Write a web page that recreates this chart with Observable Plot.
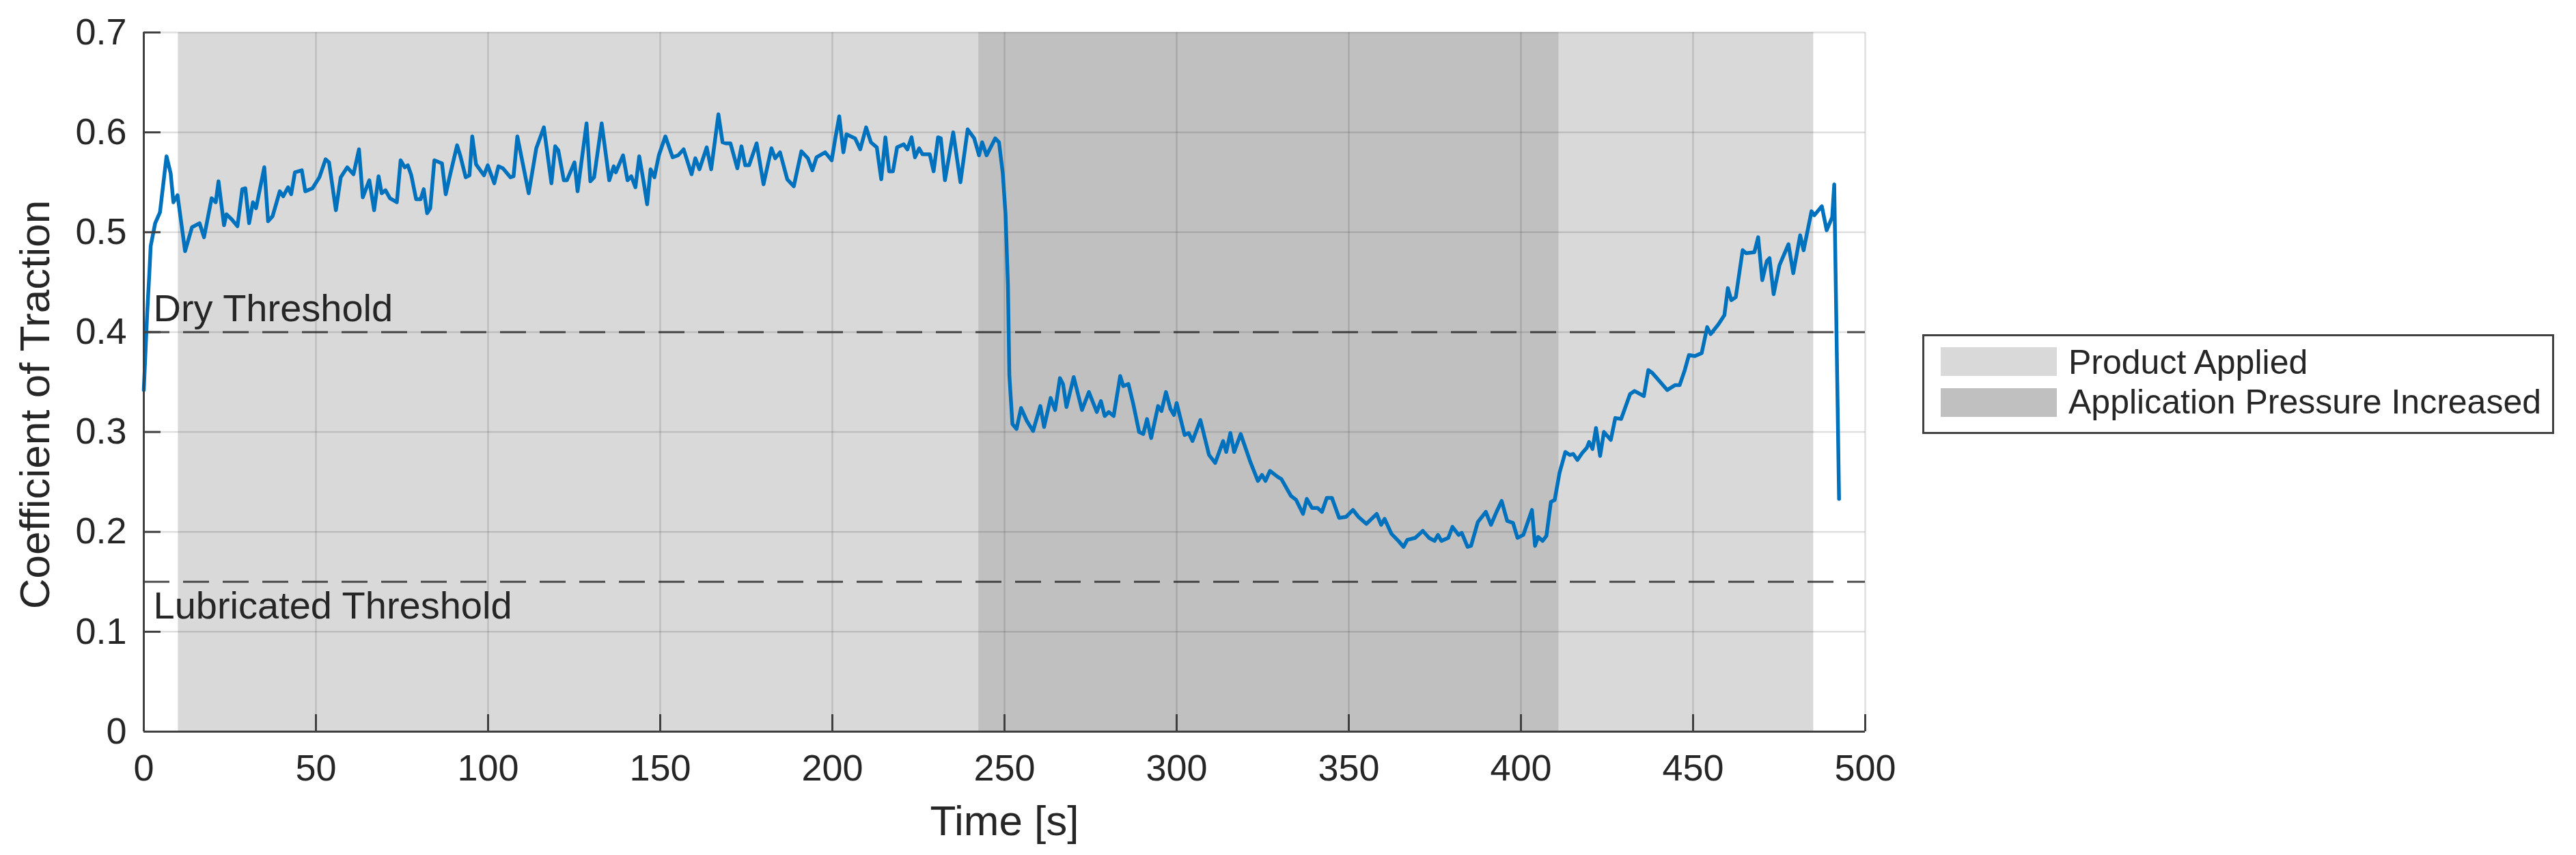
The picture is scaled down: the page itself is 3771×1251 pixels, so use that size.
<!DOCTYPE html>
<html>
<head>
<meta charset="utf-8">
<script src="https://cdn.jsdelivr.net/npm/d3@7"></script>
<script src="https://cdn.jsdelivr.net/npm/@observablehq/plot@0.6"></script>
<style>
  html, body { margin: 0; padding: 0; background: #fff; }
  #wrap { position: relative; width: 3771px; height: 1251px; font-family: "Liberation Sans", Arial, Helvetica, sans-serif; }
  #legend { position: absolute; left: 2814px; top: 489px; width: 925px; height: 146px; box-sizing: border-box;
            border: 3px solid #404040; background: #fff; }
  .sw { position: absolute; left: 24px; width: 170px; height: 42px; }
  .lt { position: absolute; left: 211px; font-size: 50px; line-height: 50px; color: #262626; white-space: nowrap; }
</style>
</head>
<body>
<div id="wrap"></div>
<script>
// ---- data ----
const timeS = [0,1,1.6,2,3.3,4.7,6.6,7.8,8.6,9.8,12,14,16.2,17.5,19.7,20.9,21.7,23.3,24,25.5,27.2,28.6,29.5,30.6,31.7,32.6,35,36.1,37.4,39.5,40.5,41.9,42.8,43.9,45.9,46.9,49,51,52.8,53.8,55.8,57.2,59.1,60.9,62.5,63.6,65.5,66.9,68.2,69.1,70.2,71.5,73.5,74.6,75.8,76.7,77.7,79.1,80.4,81.3,82.3,83.2,84.4,86.6,87.7,88.8,91,91.9,93.5,94.6,95.4,96.5,98.8,99.9,101.8,103,104.3,106.5,107.4,108.5,109.6,111.8,114,116.2,118.4,119.5,120.4,122,122.9,125.1,126,128.6,129.7,130.8,133,135.2,136.5,
137.1,139.2,140.5,141.6,142.8,143.9,145.1,146.2,147.2,148.3,149.6,151.5,153.6,155.2,156.8,159.1,160.2,161.4,163.5,164.8,166.9,168.1,169,170.4,172.4,173.6,174.7,175.8,178,180,182.3,183.4,184.8,186.9,188.8,191,192.9,194.2,195.4,197.9,199.8,200.9,202,203.2,204.1,206.6,208.1,209.8,211.2,212.9,214.2,215.4,216.5,217.6,218.8,220.7,221.8,223,224,225.2,226.2,228.3,229.4,230.7,231.5,232.7,235.1,237.2,239.3,241.2,242.6,243.5,244.8,247.3,248.4,249.5,250.3,251,251.4,252.3,
253.5,254.8,256.5,258.3,260.4,261.5,263.4,264.7,266.1,267,268,270.1,272.5,274.5,276.8,278,279.1,280.3,281.7,283.6,284.5,286,287.4,289.1,290.3,291.4,292.6,294.6,295.6,296.9,298.2,299.2,300,302.3,303.5,304.6,306.9,309.4,311.2,313.5,314.4,315.6,316.7,318.6,321.3,323.6,324.8,325.8,327.1,329.4,330.4,333.2,334.7,336.7,337.8,339.3,340.9,342.2,343.6,345.1,
347.2,349.2,351.2,352.8,355.1,358.1,359.4,360.4,362.4,364.4,365.9,367,369.3,371.5,373.3,374.9,375.9,376.9,378.9,380.1,381.9,382.8,384.5,385.5,387.5,389.8,391.3,392.9,394.4,396,397.7,399,400.7,403.2,404.1,405,406.3,407.4,408.7,409.8,411.2,412.9,414.2,415.2,416.4,417.8,419.1,419.8,420.8,421.8,423,424.1,426.1,427.4,429.1,431.7,433,435.7,
437,438.2,442.5,444.8,446.1,447.5,448.8,450.5,452.5,454.1,455.1,457.4,459.1,460.1,461.1,462.4,464.4,465.4,467.8,468.9,470.1,471.4,472.2,473.4,475.1,477.7,479.1,481.1,482.1,484.4,485.2,487.4,488.8,490.4,491,492.4];

const traction = [0.342,0.42,0.458,0.486,0.509,0.520,0.576,0.559,0.530,0.537,0.481,0.505,0.509,0.495,0.534,0.530,0.551,0.507,0.518,0.513,0.506,0.543,0.544,0.509,0.530,0.524,0.565,0.511,0.516,0.541,0.536,0.545,0.538,0.560,0.562,0.541,0.544,0.555,0.573,0.570,0.522,0.555,0.565,0.558,0.583,0.535,0.552,0.522,0.556,0.539,0.542,0.534,0.530,0.572,0.565,0.567,0.557,0.533,0.533,0.543,0.519,0.524,0.572,0.569,0.538,0.555,0.587,0.577,0.555,0.557,0.596,0.568,0.557,0.567,0.549,0.566,0.564,0.555,0.556,0.596,0.577,0.539,0.584,0.605,0.549,0.586,0.582,0.552,0.552,0.570,0.541,0.609,0.551,0.555,0.609,0.552,0.566,
0.560,0.577,0.552,0.556,0.545,0.576,0.552,0.528,0.563,0.555,0.577,0.596,0.575,0.577,0.583,0.558,0.574,0.563,0.585,0.563,0.618,0.590,0.589,0.589,0.564,0.586,0.567,0.567,0.589,0.548,0.584,0.574,0.580,0.553,0.546,0.581,0.574,0.562,0.575,0.580,0.572,0.595,0.616,0.580,0.598,0.594,0.583,0.605,0.590,0.585,0.553,0.595,0.561,0.561,0.585,0.588,0.583,0.595,0.575,0.584,0.578,0.578,0.561,0.595,0.594,0.552,0.600,0.550,0.603,0.594,0.577,0.590,0.577,0.594,0.590,0.559,0.518,0.447,0.357,0.308,
0.303,0.324,0.311,0.301,0.326,0.305,0.334,0.322,0.354,0.348,0.325,0.355,0.322,0.340,0.320,0.331,0.316,0.320,0.316,0.356,0.346,0.348,0.328,0.300,0.298,0.313,0.294,0.326,0.321,0.340,0.323,0.317,0.329,0.297,0.299,0.291,0.312,0.277,0.269,0.291,0.280,0.299,0.280,0.298,0.271,0.251,0.257,0.251,0.261,0.255,0.253,0.236,0.232,0.218,0.233,0.224,0.224,0.220,0.234,0.234,
0.214,0.215,0.222,0.215,0.208,0.218,0.207,0.213,0.198,0.191,0.185,0.192,0.194,0.201,0.194,0.191,0.197,0.191,0.194,0.205,0.197,0.199,0.185,0.186,0.210,0.220,0.207,0.220,0.231,0.211,0.209,0.194,0.197,0.222,0.186,0.195,0.191,0.196,0.230,0.232,0.259,0.280,0.277,0.278,0.272,0.279,0.284,0.290,0.283,0.304,0.276,0.300,0.292,0.314,0.313,0.338,0.341,0.336,
0.362,0.359,0.342,0.347,0.347,0.361,0.377,0.376,0.379,0.405,0.398,0.408,0.417,0.444,0.432,0.435,0.482,0.479,0.480,0.495,0.452,0.471,0.474,0.438,0.467,0.488,0.459,0.497,0.482,0.521,0.517,0.526,0.502,0.515,0.548,0.233];

const phaseNames = ["Product Applied", "Application Pressure Increased"];
const phaseStart = [10, 242.5];
const phaseEnd = [485, 411];

const thresholdNames = ["Dry Threshold", "Lubricated Threshold"];
const thresholdValues = [0.4, 0.15];

const xTicks = [0, 50, 100, 150, 200, 250, 300, 350, 400, 450, 500];
const xTickLabels = ["0", "50", "100", "150", "200", "250", "300", "350", "400", "450", "500"];
const yTicks = [0, 0.1, 0.2, 0.3, 0.4, 0.5, 0.6, 0.7];
const yTickLabels = ["0", "0.1", "0.2", "0.3", "0.4", "0.5", "0.6", "0.7"];

const xLabel = "Time [s]";
const yLabel = "Coefficient of Traction";

// ---- build tables ----
const series = timeS.map((t, i) => ({t, v: traction[i]}));
const phases = phaseNames.map((name, i) => ({name, start: phaseStart[i], end: phaseEnd[i]}));
const thresholds = thresholdNames.map((name, i) => ({name, value: thresholdValues[i]}));

const W = 3771, H = 1251;
const mL = 210, mR = 1041, mT = 47, mB = 181;
const innerW = W - mL - mR, innerH = H - mT - mB;
const phaseColors = ["#d9d9d9", "#c0c0c0"];
const ink = "#262626";
const font = "'Liberation Sans', Arial, Helvetica, sans-serif";

const chart = Plot.plot({
  width: W, height: H,
  marginLeft: mL, marginRight: mR, marginTop: mT, marginBottom: mB,
  style: {fontFamily: font, background: "#fff", color: ink, overflow: "visible"},
  x: {domain: [0, 500]},
  y: {domain: [0, 0.7]},
  color: {domain: phaseNames, range: phaseColors},
  marks: [
    Plot.rect(phases, {x1: "start", x2: "end", fill: "name"}),
    Plot.gridX(xTicks, {stroke: ink, strokeOpacity: 0.15, strokeWidth: 2.5}),
    Plot.gridY(yTicks, {stroke: ink, strokeOpacity: 0.15, strokeWidth: 2.5}),
    Plot.ruleY(thresholds, {y: "value", stroke: ink, strokeOpacity: 0.8, strokeWidth: 3, strokeDasharray: "38,20"}),
    Plot.text(thresholds.slice(0, 1), {y: "value", text: "name", frameAnchor: "left", textAnchor: "start",
      lineAnchor: "middle", dx: 14, dy: -34, fontSize: 56, fill: ink}),
    Plot.text(thresholds.slice(1, 2), {y: "value", text: "name", frameAnchor: "left", textAnchor: "start",
      lineAnchor: "middle", dx: 14, dy: 36, fontSize: 56, fill: ink}),
    Plot.line(series, {x: "t", y: "v", stroke: "#0072BD", strokeWidth: 5.5, strokeLinejoin: "round"}),
    // axis lines
    Plot.ruleX([0], {stroke: "#404040", strokeWidth: 3}),
    Plot.ruleY([0], {stroke: "#404040", strokeWidth: 3}),
    // inward ticks
    Plot.tickX(xTicks, {stroke: "#404040", strokeWidth: 3, insetTop: innerH - 25}),
    Plot.tickY(yTicks, {stroke: "#404040", strokeWidth: 3, insetRight: innerW - 25}),
    // tick labels
    Plot.axisX(xTicks, {tickSize: 0, tickPadding: 33, fontSize: 54, label: null,
      tickFormat: (d) => xTickLabels[xTicks.indexOf(d)], fill: ink}),
    Plot.axisY(yTicks, {tickSize: 0, tickPadding: 25, fontSize: 54, label: null,
      tickFormat: (d) => yTickLabels[yTicks.indexOf(d)], fill: ink}),
    // axis titles
    Plot.text([xLabel], {frameAnchor: "bottom", text: d => d, fontSize: 62, textAnchor: "middle",
      lineAnchor: "middle", dy: 132, fill: ink}),
    Plot.text([yLabel], {frameAnchor: "left", text: d => d, fontSize: 62, rotate: -90, textAnchor: "middle",
      lineAnchor: "middle", dx: -158, dy: 33, fill: ink})
  ]
});

const wrap = document.getElementById("wrap");
wrap.appendChild(chart);

// legend (HTML, real text)
const legend = document.createElement("div");
legend.id = "legend";
phaseNames.forEach((name, i) => {
  const sw = document.createElement("div");
  sw.className = "sw";
  sw.style.top = (16 + i * 60) + "px";
  sw.style.background = phaseColors[i];
  legend.appendChild(sw);
  const lt = document.createElement("div");
  lt.className = "lt";
  lt.style.top = (13 + i * 58) + "px";
  lt.textContent = name;
  legend.appendChild(lt);
});
wrap.appendChild(legend);
</script>
</body>
</html>
